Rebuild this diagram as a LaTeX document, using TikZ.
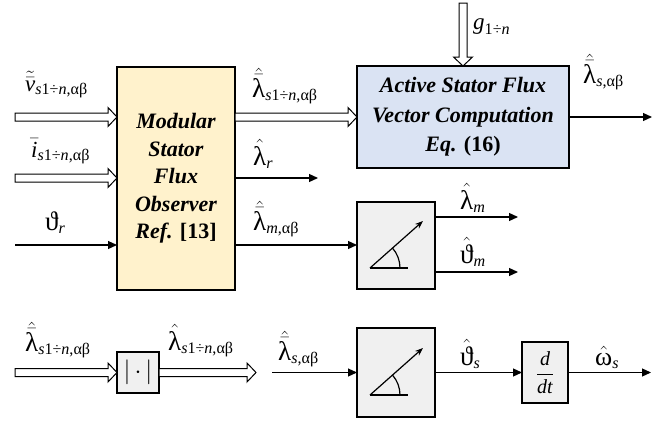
\documentclass[tikz,border=0pt]{standalone}
\usepackage{amsmath}
\usepackage{fontspec}
\setmainfont{Liberation Serif}
\usetikzlibrary{arrows.meta,calc}
\definecolor{obsfill}{HTML}{FFF2CC}
\definecolor{actfill}{HTML}{DAE3F3}
\definecolor{grayfill}{HTML}{F0F0F0}
\newcommand\lm{\text{\fontsize{27}{27}\selectfont λ}}
\newcommand\thv{\text{\fontsize{27}{27}\selectfont ϑ}}
\newcommand\om{\text{\fontsize{26}{26}\selectfont ω}}
\newcommand\hb[1]{\hat{\bar{#1}}}
\newcommand\sn{\text{\textit{s}1÷\textit{n},αβ}}
\newcommand\sab{\text{\textit{s},αβ}}
\tikzset{
  blk/.style={draw, line width=1.2pt, inner sep=0pt, outer sep=0pt, align=center},
  boxtxt/.style={font=\fontsize{22}{27.5}\selectfont\bfseries\itshape},
  lbl/.style={anchor=base west, inner sep=0pt, font=\fontsize{23}{26}\selectfont},
  sig/.style={line width=1.2pt, -{Triangle[length=9pt,width=8pt]}},
  fat/.style={draw, fill=white, line width=1pt, line join=miter, to path={
    -- ($(\tikztostart)!4pt!90:(\tikztotarget)$)
    -- ($($(\tikztotarget)!9pt!(\tikztostart)$)!4pt!90:(\tikztotarget)$)
    -- ($($(\tikztotarget)!9pt!(\tikztostart)$)!9.5pt!90:(\tikztotarget)$)
    -- (\tikztotarget)
    -- ($($(\tikztotarget)!9pt!(\tikztostart)$)!9.5pt!-90:(\tikztotarget)$)
    -- ($($(\tikztotarget)!9pt!(\tikztostart)$)!4pt!-90:(\tikztotarget)$)
    -- ($(\tikztostart)!4pt!-90:(\tikztotarget)$)
    -- cycle}}
}
\begin{document}
\begin{tikzpicture}[x=1pt,y=-1pt]
\useasboundingbox (0,0) rectangle (671,423);
% blocks
\node[blk, boxtxt, fill=obsfill, minimum width=118pt, minimum height=223pt] (obs) at (176,178.5)
  {Modular\\Stator\\Flux\\Observer\\Ref. {\upshape[13]}};
\node[blk, font=\fontsize{22}{29.5}\selectfont\bfseries\itshape, fill=actfill, minimum width=212pt, minimum height=102pt] (act) at (463,117)
  {Active Stator Flux\\Vector Computation\\Eq. {\upshape(16)}};
\node[blk, fill=grayfill, minimum width=78pt, minimum height=87pt] (ang1) at (396,245.5) {};
\node[blk, fill=grayfill, minimum width=78pt, minimum height=89pt] (ang2) at (396,372.5) {};
\node[blk, fill=grayfill, minimum width=42pt, minimum height=41pt, font=\fontsize{29}{29}\selectfont] (abs) at (138,372.5) {$\lvert\hspace{4pt}\cdot\hspace{4pt}\rvert$};
\node[blk, fill=grayfill, minimum width=46pt, minimum height=61pt, font=\fontsize{20}{24}\selectfont] (ddt) at (545,372.5) {$\dfrac{\textit{d}}{\textit{dt}}$};
% angle symbols
\draw[line width=1.2pt] (370,268) -- (408,268);
\draw[line width=1.2pt, -{Stealth[length=8pt,width=6pt]}] (370,268) -- (423,221);
\draw[line width=1.2pt] (400,268) .. controls (400,260.6) and (397.3,253.4) .. (392.3,247.9);
\draw[line width=1.2pt] (370,395) -- (408,395);
\draw[line width=1.2pt, -{Stealth[length=8pt,width=6pt]}] (370,395) -- (423,348);
\draw[line width=1.2pt] (400,395) .. controls (400,387.6) and (397.3,380.4) .. (392.3,374.9);
% coordinates
\coordinate (vin) at (15,117);
\coordinate (iin) at (15,178);
\coordinate (thin) at (15,245);
\coordinate (o1) at (obs.east |- act.west);
\coordinate (o2) at (235,178);
\coordinate (o2e) at (318,178);
\coordinate (o3) at (235,245);
\coordinate (gin) at (463,3);
\coordinate (aout) at (652,117);
\coordinate (m1) at (435,217);
\coordinate (m1e) at (518,217);
\coordinate (m2) at (435,272);
\coordinate (m2e) at (518,272);
\coordinate (bin) at (15,372.5);
\coordinate (bout) at (256,372.5);
\coordinate (cin) at (272,372.5);
\coordinate (wout) at (651,372.5);
% connectors
\draw[fat] (vin) to (obs.west |- vin);
\draw[fat] (iin) to (obs.west |- iin);
\draw[sig] (thin) -- (obs.west |- thin);
\draw[fat] (o1) to (act.west);
\draw[sig] (o2) -- (o2e);
\draw[sig] (o3) -- (ang1.west |- o3);
\draw[fat] (gin) to (act.north);
\draw[sig] (act.east) -- (aout);
\draw[sig] (m1) -- (m1e);
\draw[sig] (m2) -- (m2e);
\draw[fat] (bin) to (abs.west);
\draw[fat] (abs.east) to (bout);
\draw[sig] (cin) -- (ang2.west);
\draw[sig] (ang2.east) -- (ddt.west);
\draw[sig] (ddt.east) -- (wout);
% labels
\node[lbl] (lv) at (25,91) {$\tilde{\bar{\textit{v}}}_{\sn}$};
\node[lbl] (li) at (31,157) {$\bar{\textit{i}}_{\sn}$};
\node[lbl] (lth) at (45,230) {$\thv_{\textit{r}}$};
\node[lbl] (l1) at (252,97) {$\hb{\lm}_{\sn}$};
\node[lbl] (l2) at (253,165) {$\hat{\lm}_{\textit{r}}$};
\node[lbl] (l3) at (253,230) {$\hb{\lm}_{\text{\textit{m},αβ}}$};
\node[lbl] (lg) at (473,29) {$\textit{g}_{\text{1÷\textit{n}}}$};
\node[lbl] (l4) at (583,83) {$\hb{\lm}_{\sab}$};
\node[lbl] (l5) at (460,209) {$\hat{\lm}_{\textit{m}}$};
\node[lbl] (l6) at (460,263) {$\hat{\thv}_{\textit{m}}$};
\node[lbl] (l7) at (25,351) {$\hb{\lm}_{\sn}$};
\node[lbl] (l8) at (168,350) {$\hat{\lm}_{\sn}$};
\node[lbl] (l9) at (278,360) {$\hb{\lm}_{\sab}$};
\node[lbl] (l10) at (460,365) {$\hat{\thv}_{\textit{s}}$};
\node[lbl] (l11) at (595,365) {$\hat{\om}_{\textit{s}}$};
\end{tikzpicture}
\end{document}
